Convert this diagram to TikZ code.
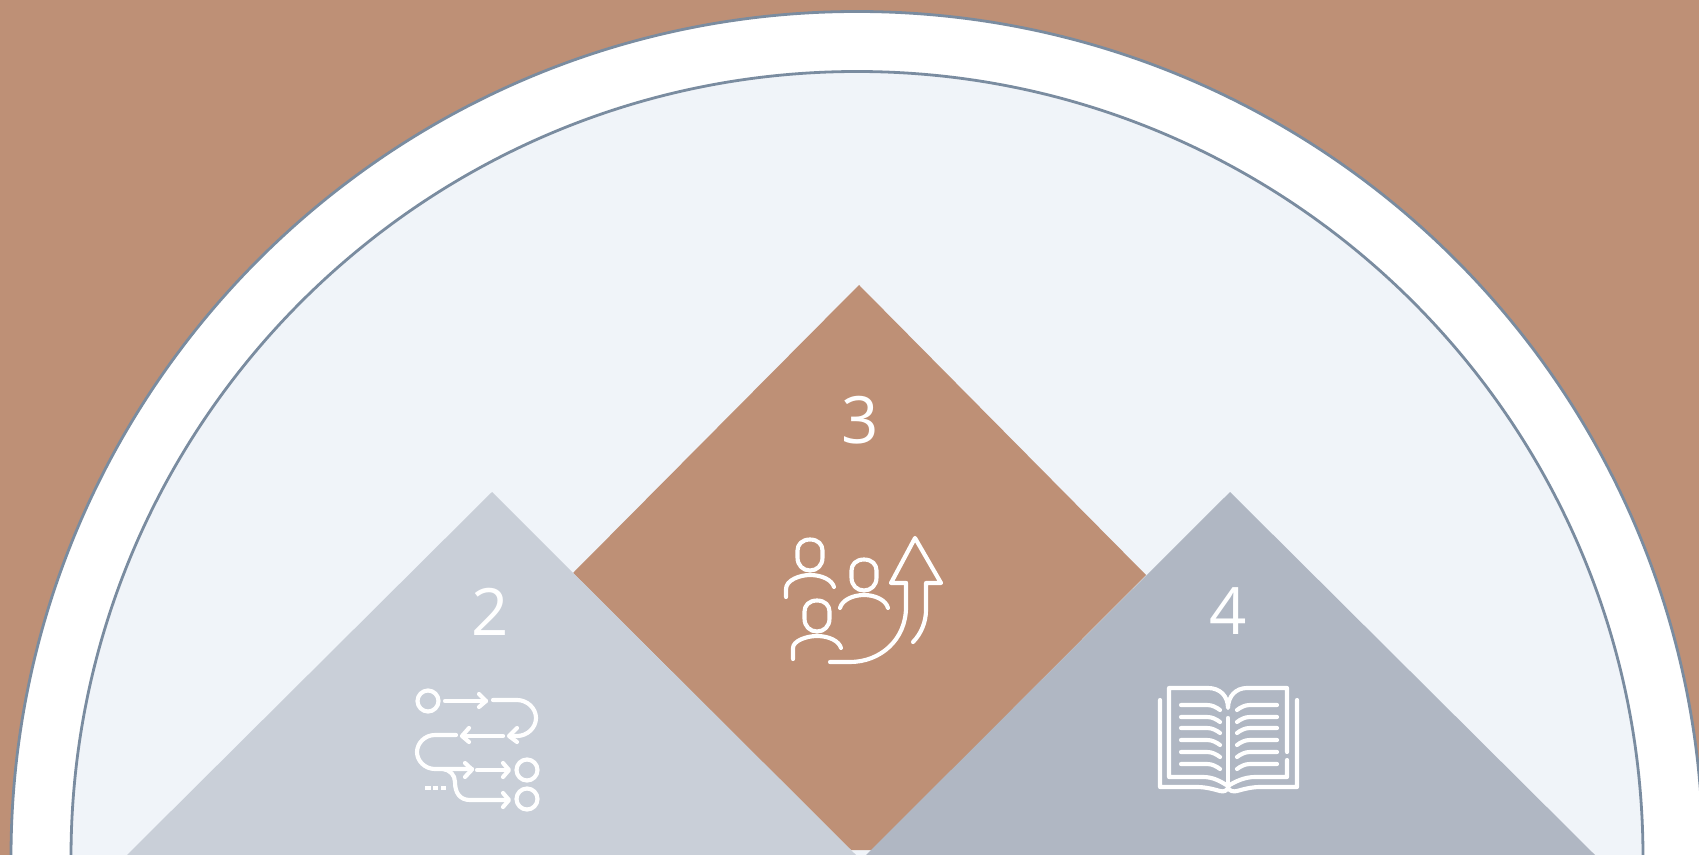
\documentclass[tikz,border=0pt]{standalone}
\usepackage{fontspec}
\setmainfont{Open Sans}
\definecolor{brownbg}{HTML}{BE9076}
\definecolor{paleblue}{HTML}{F0F4F9}
\definecolor{ringline}{HTML}{7A8CA0}
\definecolor{greyA}{HTML}{C9CFD8}
\definecolor{greyB}{HTML}{B0B7C3}
\tikzset{
  iconline/.style={draw=white,line width=3.1pt,line cap=round,line join=round},
  ring/.style={draw=ringline,line width=2.1pt},
  numlabel/.style={text=white,font=\fontsize{49}{49}\selectfont,inner sep=0pt}
}
\begin{document}
\begin{tikzpicture}[x=0.75pt,y=-0.75pt]
\useasboundingbox (0,0) rectangle (1699,855);
\clip (0,0) rectangle (1699,855);
\fill[brownbg] (0,0) rectangle (1699,855);
\fill[white,ring] (857,857.5) circle[radius=846];
\fill[paleblue,ring] (857,857.5) circle[radius=786];
% diamond
\fill[brownbg] (859,285) -- (1146,575) -- (872,850) -- (851,850) -- (573,573) -- cycle;
% triangles
\fill[greyA] (492,492) -- (856,855) -- (127,855) -- cycle;
\fill[greyB] (1230,492) -- (1595,855) -- (866,855) -- cycle;
% numbers
\node[numlabel] (n3) at (860,420.5) {3};
\node[numlabel] (n2) at (490.5,611.5) {2};
\node[numlabel] (n4) at (1228.5,611.5) {4};
% icon 3: people and arrow
\begin{scope}[iconline]
\foreach \cx/\ty in {810/539.5,864/559.5,817/600.5}{
  \draw (\cx,\ty) .. controls (\cx-8,\ty) and (\cx-12.5,\ty+5) .. (\cx-12.5,\ty+11)
    -- (\cx-12.5,\ty+18) .. controls (\cx-12.5,\ty+26) and (\cx-7,\ty+31) .. (\cx,\ty+31)
    .. controls (\cx+7,\ty+31) and (\cx+12.5,\ty+26) .. (\cx+12.5,\ty+18)
    -- (\cx+12.5,\ty+11) .. controls (\cx+12.5,\ty+5) and (\cx+8,\ty) .. (\cx,\ty) -- cycle;
}
\draw (786,597) -- (786,589) .. controls (786,580) and (800,575) .. (810,575) .. controls (822,575) and (832,580) .. (834,587);
\draw (840,608) .. controls (842,600) and (853,595) .. (864,595) .. controls (875,595) and (886,600) .. (888,608);
\draw (793,659) -- (793,648) .. controls (793,641) and (806,636) .. (817,636) .. controls (829,636) and (839,641) .. (841,648);
\draw (906,583) -- (891,583) -- (915,538) -- (941,583) -- (926,583) -- (926,610) .. controls (926,622) and (921,634) .. (913,642);
\draw (906,583) -- (906,607) .. controls (906,640) and (880,662) .. (850,662) -- (830,662);
\end{scope}
% icon 2: process
\begin{scope}[iconline]
\draw (428,701) circle[radius=10.5];
\draw (527,770) circle[radius=10.5];
\draw (527,799) circle[radius=10.5];
\draw (445,701) -- (486,701);
\draw (479,694) -- (486,701) -- (479,707);
\draw (493,700) -- (517,700) .. controls (527,700) and (536,708) .. (536,718) .. controls (536,728) and (527,736) .. (517,736) -- (510,736);
\draw (517,728) -- (509,736) -- (517,742);
\draw (503,736) -- (463,736);
\draw (469,728) -- (462,736) -- (469,742);
\draw (456,735) -- (435,735) .. controls (425,735) and (417,743) .. (417,752) .. controls (417,761) and (425,769) .. (435,769) -- (472,769);
\draw (465,763) -- (472,769.5) -- (465,777);
\draw (477,770) -- (508,770);
\draw (503,763) -- (509,770) -- (503,777);
\draw (443,769) .. controls (450,770) and (455,775) .. (455,782) .. controls (455,793) and (460,800) .. (470,800) -- (508,800);
\draw (503,793) -- (509,800) -- (503,807);
\draw[line cap=butt] (425,788) -- (431,788) (433,788) -- (438,788) (441,788) -- (446,788);
\end{scope}
% icon 4: book
\begin{scope}[iconline]
\draw (1287,752) -- (1287,688) -- (1247,688) .. controls (1236,688) and (1228,696) .. (1228,708) .. controls (1228,696) and (1220,688) .. (1208,688) -- (1169,688) -- (1169,777) -- (1203,777) .. controls (1213,777) and (1220,781) .. (1228,786) .. controls (1236,781) and (1245,777) .. (1255,777) -- (1287,777) -- (1287,760);
\draw (1228,718) -- (1228,783);
\draw (1160,700) -- (1160,787) -- (1197,787) .. controls (1205,787) and (1213,789) .. (1220,791) .. controls (1224,792) and (1226,791) .. (1228,788) .. controls (1230,791) and (1233,792) .. (1237,791) .. controls (1244,789) and (1252,787) .. (1260,787) -- (1297,787) -- (1297,700);
\foreach \ly in {705,717,728,740,752,764}{
  \draw (1181,\ly) -- (1207,\ly) .. controls (1212,\ly) and (1216,\ly+2) .. (1220,\ly+5);
  \draw (1277,\ly) -- (1250,\ly) .. controls (1245,\ly) and (1241,\ly+2) .. (1237,\ly+5);
}
\end{scope}
\end{tikzpicture}
\end{document}
